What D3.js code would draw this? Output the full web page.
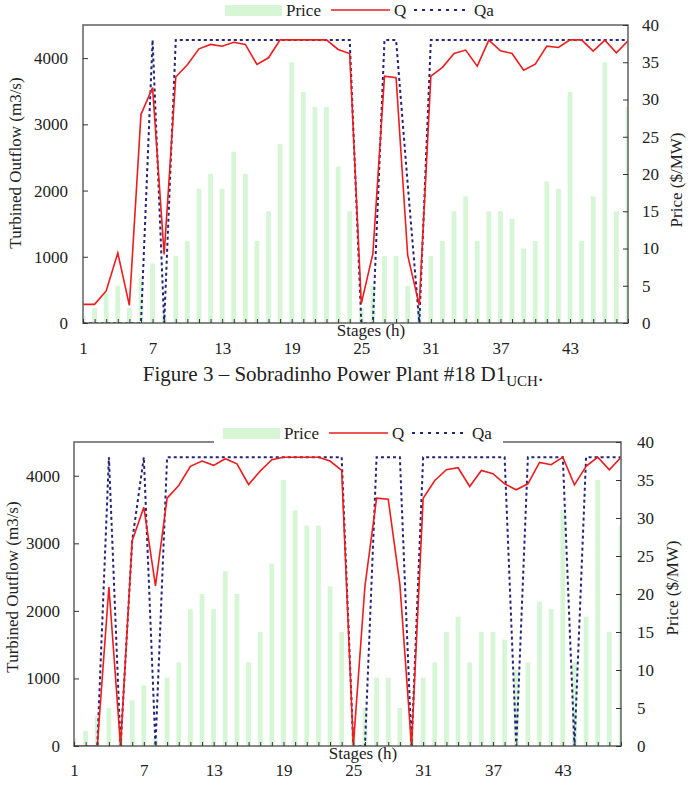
<!DOCTYPE html>
<html lang="en">
<head>
<meta charset="UTF-8">
<title>Sobradinho turbined outflow</title>
<script src="https://d3js.org/d3.v7.min.js"></script>
<style>
  body { margin: 0; background: #fff; }
  svg { display: block; }
  text { font-family: "Liberation Serif", "Times New Roman", serif; fill: #222; }
</style>
</head>
<body>
<svg id="chart" width="690" height="794"></svg>
<script>

const stages = [1,2,3,4,5,6,7,8,9,10,11,12,13,14,15,16,17,18,19,20,21,22,23,24,
                25,26,27,28,29,30,31,32,33,34,35,36,37,38,39,40,41,42,43,44,45,46,47,48];
const xTickLabels = [1, 7, 13, 19, 25, 31, 37, 43];
const flowTicks = [0, 1000, 2000, 3000, 4000];
const priceTicks = [0, 5, 10, 15, 20, 25, 30, 35, 40];

// price ($/MW), same for both figures
const price = [1,2,4,5,2,6,8,1,9,11,18,20,18,23,20,11,15,24,35,31,29,29,21,15,
               2,5,9,9,5,2,9,11,15,17,11,15,15,14,10,11,19,18,31,11,17,35,15,29];

// figure 3 (top)
const q1 = [282,282,484,1058,267,3150,3555,1035,3715,3900,4140,4207,4180,4240,4207,3904,
            4005,4275,4275,4275,4275,4275,4131,4070,292,1048,3728,3703,1023,267,3728,3860,
            4070,4121,3879,4272,4111,4070,3819,3909,4181,4161,4275,4275,4106,4272,4080,4262];
const qa1 = [0,0,0,0,0,0,4275,0,4275,4275,4275,4275,4275,4275,4275,4275,
             4275,4275,4275,4275,4275,4275,4275,4275,0,0,4275,4275,2100,0,4275,4275,
             4275,4275,4275,4275,4275,4275,4275,4275,4275,4275,4275,4275,4275,4275,4275,4275];

// bottom figure
const q2 = [0,0,0,2354,0,3038,3534,2369,3668,3856,4139,4218,4154,4253,4178,3871,
            4070,4238,4275,4275,4275,4275,4218,4079,0,2369,3668,3653,2394,0,3668,3930,
            4089,4119,3841,4079,4030,3881,3792,3881,4198,4164,4275,3866,4139,4275,4089,4275];
const qa2 = [0,0,0,4275,0,3038,4275,0,4275,4275,4275,4275,4275,4275,4275,4275,
             4275,4275,4275,4275,4275,4275,4275,4275,0,0,4275,4275,4275,0,4275,4275,
             4275,4275,4275,4275,4275,4275,0,4275,4275,4275,4275,0,4275,4275,4275,4275];

const svg = d3.select('#chart');

function drawPanel(cfg) {
  const g = svg.append('g');
  const x = d3.scalePoint().domain(stages).range([cfg.left, cfg.right]);
  const yL = d3.scaleLinear().domain([0, 4500]).range([cfg.bottom, cfg.top]);
  const yR = d3.scaleLinear().domain([0, 40]).range([cfg.bottom, cfg.top]);

  g.append('clipPath').attr('id', cfg.id + '-clip')
    .append('rect')
    .attr('x', cfg.left).attr('y', cfg.top)
    .attr('width', cfg.right - cfg.left).attr('height', cfg.bottom - cfg.top);

  const plot = g.append('g').attr('clip-path', `url(#${cfg.id}-clip)`);

  plot.selectAll('rect.bar')
    .data(stages)
    .join('rect')
    .attr('class', 'bar')
    .attr('x', d => x(d) - 2.4)
    .attr('width', 4.8)
    .attr('y', (d, i) => yR(price[i]))
    .attr('height', (d, i) => cfg.bottom - yR(price[i]))
    .attr('fill', '#d6f6d6');

  const line = series => d3.line()
    .x((d, i) => x(stages[i]))
    .y(d => yL(d))(series);

  plot.append('path')
    .attr('d', line(cfg.qa))
    .attr('fill', 'none')
    .attr('stroke', '#23237a')
    .attr('stroke-width', 2)
    .attr('stroke-dasharray', '3,3');

  plot.append('path')
    .attr('d', line(cfg.q))
    .attr('fill', 'none')
    .attr('stroke', '#ee1c1c')
    .attr('stroke-width', 1.6);

  // frame
  g.append('rect')
    .attr('x', cfg.left).attr('y', cfg.top)
    .attr('width', cfg.right - cfg.left).attr('height', cfg.bottom - cfg.top)
    .attr('fill', 'none').attr('stroke', '#6a6a6a').attr('stroke-width', 1.6);

  const fs = '17px';

  const ax = g.append('g').attr('transform', `translate(0,${cfg.bottom})`)
    .call(d3.axisBottom(x).tickValues(stages)
      .tickSizeInner(-4).tickSizeOuter(0).tickPadding(cfg.xPad)
      .tickFormat(d => xTickLabels.includes(d) ? d : ''));
  const al = g.append('g').attr('transform', `translate(${cfg.left},0)`)
    .call(d3.axisLeft(yL).tickValues(flowTicks).tickFormat(d3.format('d'))
      .tickSizeInner(-5).tickSizeOuter(0).tickPadding(cfg.lPad));
  const ar = g.append('g').attr('transform', `translate(${cfg.right},0)`)
    .call(d3.axisRight(yR).tickValues(priceTicks).tickFormat(d3.format('d'))
      .tickSizeInner(-5).tickSizeOuter(0).tickPadding(cfg.rPad));

  [ax, al, ar].forEach(a => {
    a.select('.domain').remove();
    a.selectAll('line').attr('stroke', '#333');
    a.selectAll('text').style('font-size', fs)
      .style('font-family', '"Liberation Serif", serif').attr('fill', '#222');
  });

  // axis titles
  g.append('text')
    .attr('transform', `translate(${cfg.yTitleX},${cfg.yTitleY}) rotate(-90)`)
    .attr('text-anchor', 'middle').style('font-size', fs)
    .text('Turbined Outflow (m3/s)');
  g.append('text')
    .attr('transform', `translate(${cfg.rTitleX},${cfg.rTitleY}) rotate(-90)`)
    .attr('text-anchor', 'middle').style('font-size', fs)
    .text('Price ($/MW)');
  g.append('text')
    .attr('x', cfg.xTitleX).attr('y', cfg.xTitleY)
    .attr('text-anchor', 'middle').style('font-size', fs)
    .text('Stages (h)');

  // legend
  const lg = g.append('g').attr('transform', `translate(${cfg.legX},${cfg.legY})`);
  if (cfg.legBg) {
    lg.append('rect').attr('x', -9).attr('y', -10).attr('width', 289).attr('height', 20)
      .attr('fill', '#fff');
  }
  lg.append('rect').attr('x', 0).attr('y', -5).attr('width', 57).attr('height', 11)
    .attr('fill', '#d6f6d6');
  lg.append('text').attr('x', 61).attr('y', 6).style('font-size', fs).text('Price');
  lg.append('line').attr('x1', 106).attr('x2', 165).attr('y1', 0).attr('y2', 0)
    .attr('stroke', '#ee1c1c').attr('stroke-width', 1.6);
  lg.append('text').attr('x', 169).attr('y', 6).style('font-size', fs).text('Q');
  lg.append('line').attr('x1', 189).attr('x2', 245).attr('y1', 0).attr('y2', 0)
    .attr('stroke', '#23237a').attr('stroke-width', 2).attr('stroke-dasharray', '3,5');
  lg.append('text').attr('x', 249).attr('y', 6).style('font-size', fs).text('Qa');
}

drawPanel({
  id: 'p1', left: 83, right: 628, top: 25, bottom: 323, q: q1, qa: qa1,
  xPad: 19, lPad: 15, rPad: 14,
  yTitleX: 21, yTitleY: 163, rTitleX: 682, rTitleY: 180,
  xTitleX: 371, xTitleY: 336, legX: 225, legY: 10, legBg: false
});

drawPanel({
  id: 'p2', left: 74, right: 621, top: 442, bottom: 746, q: q2, qa: qa2,
  xPad: 18, lPad: 14, rPad: 16,
  yTitleX: 18, yTitleY: 587, rTitleX: 678, rTitleY: 588,
  xTitleX: 363, xTitleY: 759, legX: 223, legY: 433, legBg: true
});

// caption between the figures
const cap = svg.append('text')
  .attr('x', 343).attr('y', 381)
  .attr('text-anchor', 'middle')
  .style('font-size', '21px');
cap.append('tspan').text('Figure 3 \u2013 Sobradinho Power Plant #18 D1');
cap.append('tspan').attr('dy', 5).style('font-size', '15px').text('UCH');
cap.append('tspan').attr('dy', -5).text('.');

</script>
</body>
</html>
